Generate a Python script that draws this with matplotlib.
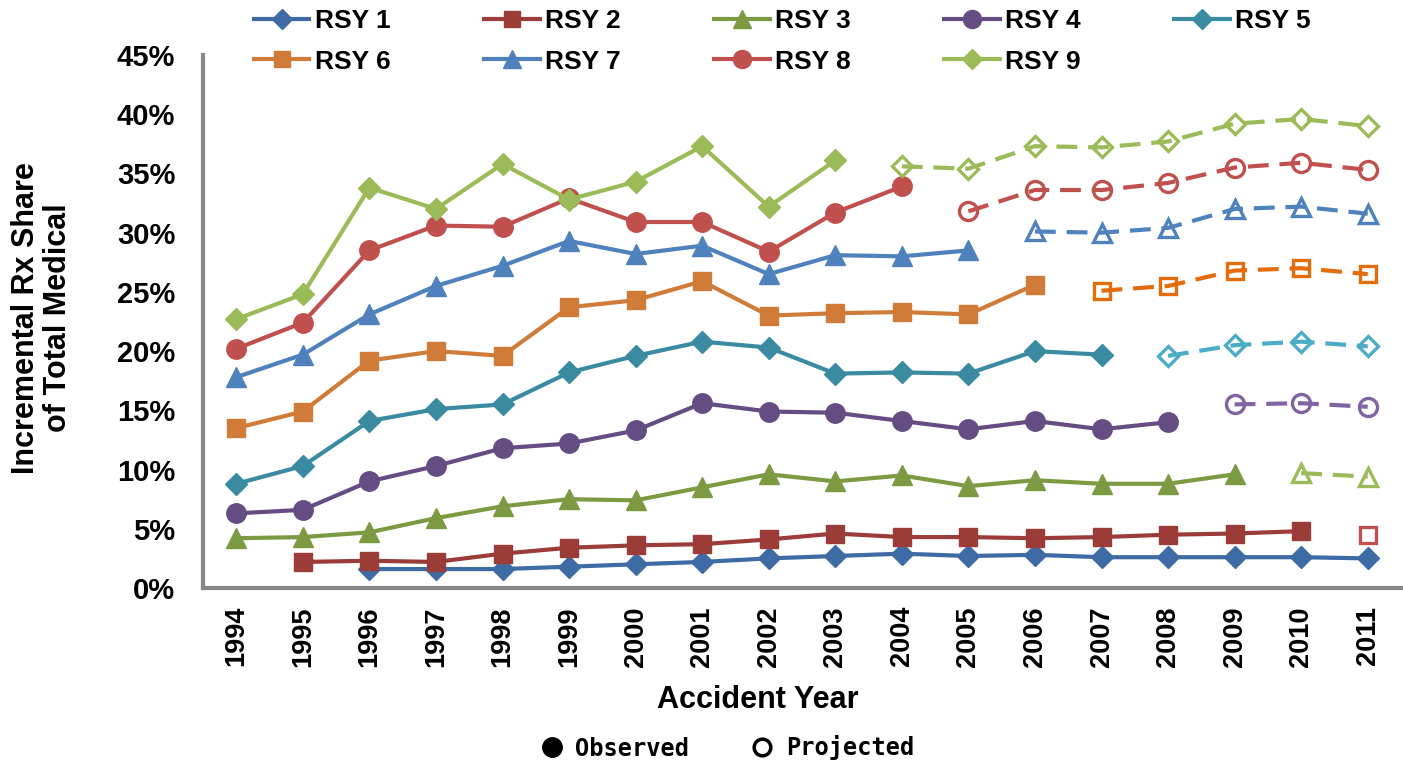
import matplotlib
matplotlib.use('Agg')
import matplotlib.pyplot as plt
from matplotlib.lines import Line2D
import numpy as np

plt.rcParams['font.family'] = ['Liberation Sans', 'DejaVu Sans']
plt.rcParams['font.weight'] = 'bold'

YEARS = list(range(1994, 2012))
NA = np.nan

# observed / projected shares (%) by accident year, 1994..2011
RSY1_OBS = [NA, NA, 1.6, 1.6, 1.6, 1.8, 2.0, 2.2, 2.5, 2.7, 2.9, 2.7, 2.8, 2.6, 2.6, 2.6, 2.6, 2.5]
RSY1_PROJ = [NA] * 18
RSY2_OBS = [NA, 2.2, 2.3, 2.2, 2.9, 3.4, 3.6, 3.7, 4.1, 4.6, 4.3, 4.3, 4.2, 4.3, 4.5, 4.6, 4.8, NA]
RSY2_PROJ = [NA] * 17 + [4.5]
RSY3_OBS = [4.2, 4.3, 4.7, 5.9, 6.9, 7.5, 7.4, 8.5, 9.6, 9.0, 9.5, 8.6, 9.1, 8.8, 8.8, 9.6, NA, NA]
RSY3_PROJ = [NA] * 16 + [9.7, 9.4]
RSY4_OBS = [6.3, 6.6, 9.0, 10.3, 11.8, 12.2, 13.3, 15.6, 14.9, 14.8, 14.1, 13.4, 14.1, 13.4, 14.0, NA, NA, NA]
RSY4_PROJ = [NA] * 15 + [15.5, 15.6, 15.3]
RSY5_OBS = [8.8, 10.3, 14.1, 15.1, 15.5, 18.2, 19.6, 20.8, 20.3, 18.1, 18.2, 18.1, 20.0, 19.7, NA, NA, NA, NA]
RSY5_PROJ = [NA] * 14 + [19.6, 20.5, 20.8, 20.4]
RSY6_OBS = [13.5, 14.9, 19.2, 20.0, 19.6, 23.7, 24.3, 25.9, 23.0, 23.2, 23.3, 23.1, 25.6, NA, NA, NA, NA, NA]
RSY6_PROJ = [NA] * 13 + [25.1, 25.5, 26.8, 27.0, 26.5]
RSY7_OBS = [17.8, 19.7, 23.1, 25.5, 27.2, 29.3, 28.2, 28.9, 26.5, 28.1, 28.0, 28.5, NA, NA, NA, NA, NA, NA]
RSY7_PROJ = [NA] * 12 + [30.1, 30.0, 30.4, 32.0, 32.2, 31.6]
RSY8_OBS = [20.2, 22.4, 28.5, 30.6, 30.5, 32.9, 30.9, 30.9, 28.4, 31.7, 33.9, NA, NA, NA, NA, NA, NA, NA]
RSY8_PROJ = [NA] * 11 + [31.8, 33.6, 33.6, 34.2, 35.5, 35.9, 35.3]
RSY9_OBS = [22.7, 24.8, 33.8, 32.0, 35.8, 32.8, 34.3, 37.3, 32.2, 36.1, NA, NA, NA, NA, NA, NA, NA, NA]
RSY9_PROJ = [NA] * 10 + [35.6, 35.4, 37.3, 37.2, 37.7, 39.2, 39.6, 39.0]

NAMES = [f'RSY {i}' for i in range(1, 10)]
OBS = [RSY1_OBS, RSY2_OBS, RSY3_OBS, RSY4_OBS, RSY5_OBS, RSY6_OBS, RSY7_OBS, RSY8_OBS, RSY9_OBS]
PROJ = [RSY1_PROJ, RSY2_PROJ, RSY3_PROJ, RSY4_PROJ, RSY5_PROJ, RSY6_PROJ, RSY7_PROJ, RSY8_PROJ, RSY9_PROJ]

OBS_COLORS = ['#3E6BA3', '#9B3C39', '#7B9A42', '#654D84', '#3A8BA2',
              '#D07C38', '#4F81BD', '#C0504D', '#9BBB59']
PROJ_COLORS = ['#3E6BA3', '#C0504D', '#9BBB59', '#8064A2', '#4BACC6',
               '#E46C0A', '#4F81BD', '#C0504D', '#9BBB59']
MARKERS = ['D', 's', '^', 'o', 'D', 's', '^', 'o', 'D']
MSIZE = {'D': 11, 's': 13, '^': 14, 'o': 14}

fig = plt.figure(figsize=(14.03, 7.66), dpi=100)
ax = fig.add_axes([203 / 1403, 1 - 588 / 766, 1198 / 1403, 533 / 766])

for i in range(9):
    m = MARKERS[i]
    ax.plot(YEARS, OBS[i], color=OBS_COLORS[i], lw=3.0, marker=m, ms=MSIZE[m],
            mfc=OBS_COLORS[i], mec=OBS_COLORS[i], mew=1, clip_on=False, zorder=3 + i)
    # projected: hollow markers, dashed line drawn over them
    ax.plot(YEARS, PROJ[i], ls='none', marker=m, ms=MSIZE[m] - 1, mfc='white',
            mec=PROJ_COLORS[i], mew=2.4, clip_on=False, zorder=3 + i)
    ax.plot(YEARS, PROJ[i], color=PROJ_COLORS[i], lw=3.0, ls=(0, (5, 2.6)),
            clip_on=False, zorder=3.5 + i)

ax.set_xlim(1993.5, 2011.5)
ax.set_ylim(0, 45)
ax.set_xticks(YEARS)
ax.set_xticklabels([str(y) for y in YEARS], rotation=90, fontsize=19.5)
ax.set_yticks(range(0, 50, 5))
ax.set_yticklabels([f'{v}%' for v in range(0, 50, 5)], fontsize=21)
ax.tick_params(axis='both', length=0)
ax.tick_params(axis='x', pad=13)
ax.tick_params(axis='y', pad=20)
for side in ('top', 'right'):
    ax.spines[side].set_visible(False)
for side in ('left', 'bottom'):
    ax.spines[side].set_color('#878787')
    ax.spines[side].set_linewidth(3)

fig.text(42 / 1403, 1 - 318 / 766, 'Incremental Rx Share\nof Total Medical',
         rotation=90, ha='center', va='center', fontsize=22, linespacing=1.05)
fig.text(758 / 1403, 1 - 700 / 766, 'Accident Year', ha='center', va='center', fontsize=22)

handles = [Line2D([], [], color=OBS_COLORS[i], lw=3, marker=MARKERS[i],
                  ms=MSIZE[MARKERS[i]] - 1) for i in range(9)]
order = [0, 5, 1, 6, 2, 7, 3, 8, 4]
fig.legend([handles[k] for k in order], [NAMES[k] for k in order], ncol=5,
           loc='upper left', bbox_to_anchor=(254 / 1403, 1 - 9 / 766),
           frameon=False, fontsize=19, handlelength=2.1, handletextpad=0.2,
           columnspacing=3.55, labelspacing=0.63, borderpad=0, borderaxespad=0)

kh = [Line2D([], [], ls='none', marker='o', ms=14, mfc='black', mec='black'),
      Line2D([], [], ls='none', marker='o', ms=12, mfc='white', mec='black', mew=2.5)]
fig.legend(kh, ['Observed', 'Projected'], ncol=2, loc='center',
           bbox_to_anchor=(727 / 1403, 1 - 748 / 766), frameon=False,
           prop={'family': 'DejaVu Sans Mono', 'weight': 'bold', 'size': 17},
           handlelength=1.0, handletextpad=0.5, columnspacing=2.6, borderpad=0)

fig.savefig('out.png', dpi=100)
